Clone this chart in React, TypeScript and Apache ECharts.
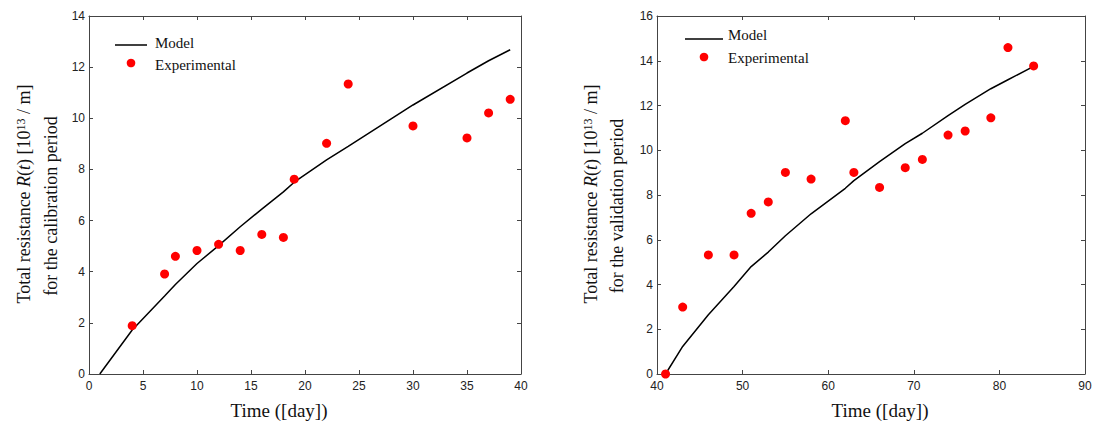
import React, { useEffect, useRef } from "react";
import * as echarts from "echarts";

// ---------- Calibration period (left) ----------
const calModelT = [1, 4, 7, 8, 10, 12, 14, 16, 18, 19, 22, 24, 30, 35, 37, 39];
const calModelR = [0, 1.72, 3.05, 3.5, 4.32, 5.02, 5.76, 6.45, 7.12, 7.5, 8.37, 8.9, 10.52, 11.77, 12.25, 12.68];
const calExpT = [4, 7, 8, 10, 12, 14, 16, 18, 19, 22, 24, 30, 35, 37, 39];
const calExpR = [1.89, 3.91, 4.6, 4.83, 5.07, 4.83, 5.46, 5.34, 7.62, 9.02, 11.34, 9.7, 9.23, 10.21, 10.74];

// ---------- Validation period (right) ----------
const valModelT = [41, 43, 46, 49, 51, 53, 55, 58, 62, 63, 66, 69, 71, 74, 76, 79, 81, 84];
const valModelR = [0, 1.23, 2.65, 3.91, 4.8, 5.45, 6.18, 7.16, 8.3, 8.64, 9.49, 10.3, 10.76, 11.55, 12.05, 12.75, 13.15, 13.75];
const valExpT = [41, 43, 46, 49, 51, 53, 55, 58, 62, 63, 66, 69, 71, 74, 76, 79, 81, 84];
const valExpR = [0, 2.99, 5.32, 5.32, 7.18, 7.69, 9.01, 8.71, 11.32, 9.01, 8.34, 9.22, 9.59, 10.68, 10.86, 11.45, 14.59, 13.77];

const leftXTicks = { min: 0, max: 40, interval: 5 };
const leftYTicks = { min: 0, max: 14, interval: 2 };
const rightXTicks = { min: 40, max: 90, interval: 10 };
const rightYTicks = { min: 0, max: 16, interval: 2 };

const xTitle = "Time ([day])";
const legendNames = ["Model", "Experimental"];
const yTitleLine1 = "Total resistance {i|R}({i|t}) [10{s|13} / m]";
const yTitleLine2Left = "for the calibration period";
const yTitleLine2Right = "for the validation period";

const zip = (a: number[], b: number[]) => a.map((v, i) => [v, b[i]]);

const SERIF = "'Liberation Serif', 'Times New Roman', serif";
const SANS = "'Liberation Sans', Arial, sans-serif";
const FRAME = "#444";

function axisPair(gridIndex: number, t: { min: number; max: number; interval: number }, kind: "x" | "y") {
  const common = {
    gridIndex,
    type: "value",
    min: t.min,
    max: t.max,
    interval: t.interval,
    splitLine: { show: false },
    axisLine: { show: true, onZero: false, lineStyle: { color: FRAME, width: 1 } },
    axisTick: { show: true, inside: true, length: 4, lineStyle: { color: FRAME } },
  };
  const main = {
    ...common,
    position: kind === "x" ? "bottom" : "left",
    axisLabel: {
      show: true,
      fontFamily: SANS,
      fontSize: 12,
      color: "#222",
      margin: kind === "x" ? 6 : 4,
    },
  };
  const mirror = {
    ...common,
    position: kind === "x" ? "top" : "right",
    axisLabel: { show: false },
  };
  return [main, mirror];
}

function legendGraphics(lineX0: number, lineX1: number, lineY: number, dotX: number, dotY: number, textX: number, t1Y: number, t2Y: number) {
  return [
    { type: "line", shape: { x1: lineX0, y1: lineY, x2: lineX1, y2: lineY }, style: { stroke: "#000", lineWidth: 1.5 } },
    { type: "text", x: textX, y: t1Y, style: { text: legendNames[0], font: `15px ${SERIF}`, fill: "#111", verticalAlign: "middle", align: "left" } },
    { type: "circle", shape: { cx: dotX, cy: dotY, r: 4.3 }, style: { fill: "#ff0000" } },
    { type: "text", x: textX, y: t2Y, style: { text: legendNames[1], font: `15px ${SERIF}`, fill: "#111", verticalAlign: "middle", align: "left" } },
  ];
}

const richTitle = {
  i: { fontFamily: SERIF, fontSize: 18, fontStyle: "italic", fill: "#111" },
  s: { fontFamily: SERIF, fontSize: 12, fill: "#111", verticalAlign: "top" },
};

function yTitle(x1: number, y1: number, x2: number, y2: number, line2: string) {
  return [
    {
      type: "text",
      x: x1,
      y: y1,
      rotation: Math.PI / 2,
      style: { text: yTitleLine1, font: `18px ${SERIF}`, fill: "#111", align: "center", verticalAlign: "middle", rich: richTitle },
    },
    {
      type: "text",
      x: x2,
      y: y2,
      rotation: Math.PI / 2,
      style: { text: line2, font: `18px ${SERIF}`, fill: "#111", align: "center", verticalAlign: "middle" },
    },
  ];
}

export default function App() {
  const ref = useRef<HTMLDivElement>(null);
  useEffect(() => {
    if (!ref.current) return;
    const chart = echarts.init(ref.current, null, { renderer: "svg" });
    const [lx, lxTop] = axisPair(0, leftXTicks, "x");
    const [rx, rxTop] = axisPair(1, rightXTicks, "x");
    const [ly, lyRight] = axisPair(0, leftYTicks, "y");
    const [ry, ryRight] = axisPair(1, rightYTicks, "y");
    const lineSeries = (xi: number, data: number[][]) => ({
      name: "Model",
      type: "line",
      xAxisIndex: xi,
      yAxisIndex: xi,
      data,
      symbol: "none",
      smooth: false,
      lineStyle: { color: "#000", width: 1.5 },
      z: 2,
    });
    const dotSeries = (xi: number, data: number[][]) => ({
      name: "Experimental",
      type: "scatter",
      xAxisIndex: xi,
      yAxisIndex: xi,
      data,
      symbolSize: 9,
      itemStyle: { color: "#ff0000", opacity: 1 },
      z: 3,
    });
    chart.setOption({
      animation: false,
      backgroundColor: "#fff",
      grid: [
        { left: 89, top: 16, width: 432, height: 358 },
        { left: 657, top: 16, width: 428, height: 358 },
      ],
      xAxis: [lx, lxTop, rx, rxTop],
      yAxis: [ly, lyRight, ry, ryRight],
      series: [
        lineSeries(0, zip(calModelT, calModelR)),
        dotSeries(0, zip(calExpT, calExpR)),
        lineSeries(2, zip(valModelT, valModelR)),
        dotSeries(2, zip(valExpT, valExpR)),
      ],
      graphic: [
        ...legendGraphics(115, 147, 45, 131, 63, 155, 43, 65),
        ...legendGraphics(685, 723, 39, 704, 57, 728, 35, 58),
        { type: "text", x: 279, y: 410, style: { text: xTitle, font: `19px ${SERIF}`, fill: "#111", align: "center", verticalAlign: "middle" } },
        { type: "text", x: 880, y: 410, style: { text: xTitle, font: `19px ${SERIF}`, fill: "#111", align: "center", verticalAlign: "middle" } },
        ...yTitle(24, 194, 51, 206, yTitleLine2Left),
        ...yTitle(591, 194, 617, 206, yTitleLine2Right),
      ],
    });
    return () => chart.dispose();
  }, []);
  return (
    <div
      ref={ref}
      style={{ position: "fixed", left: 0, top: 0, width: 1097, height: 423, background: "#fff" }}
    />
  );
}
